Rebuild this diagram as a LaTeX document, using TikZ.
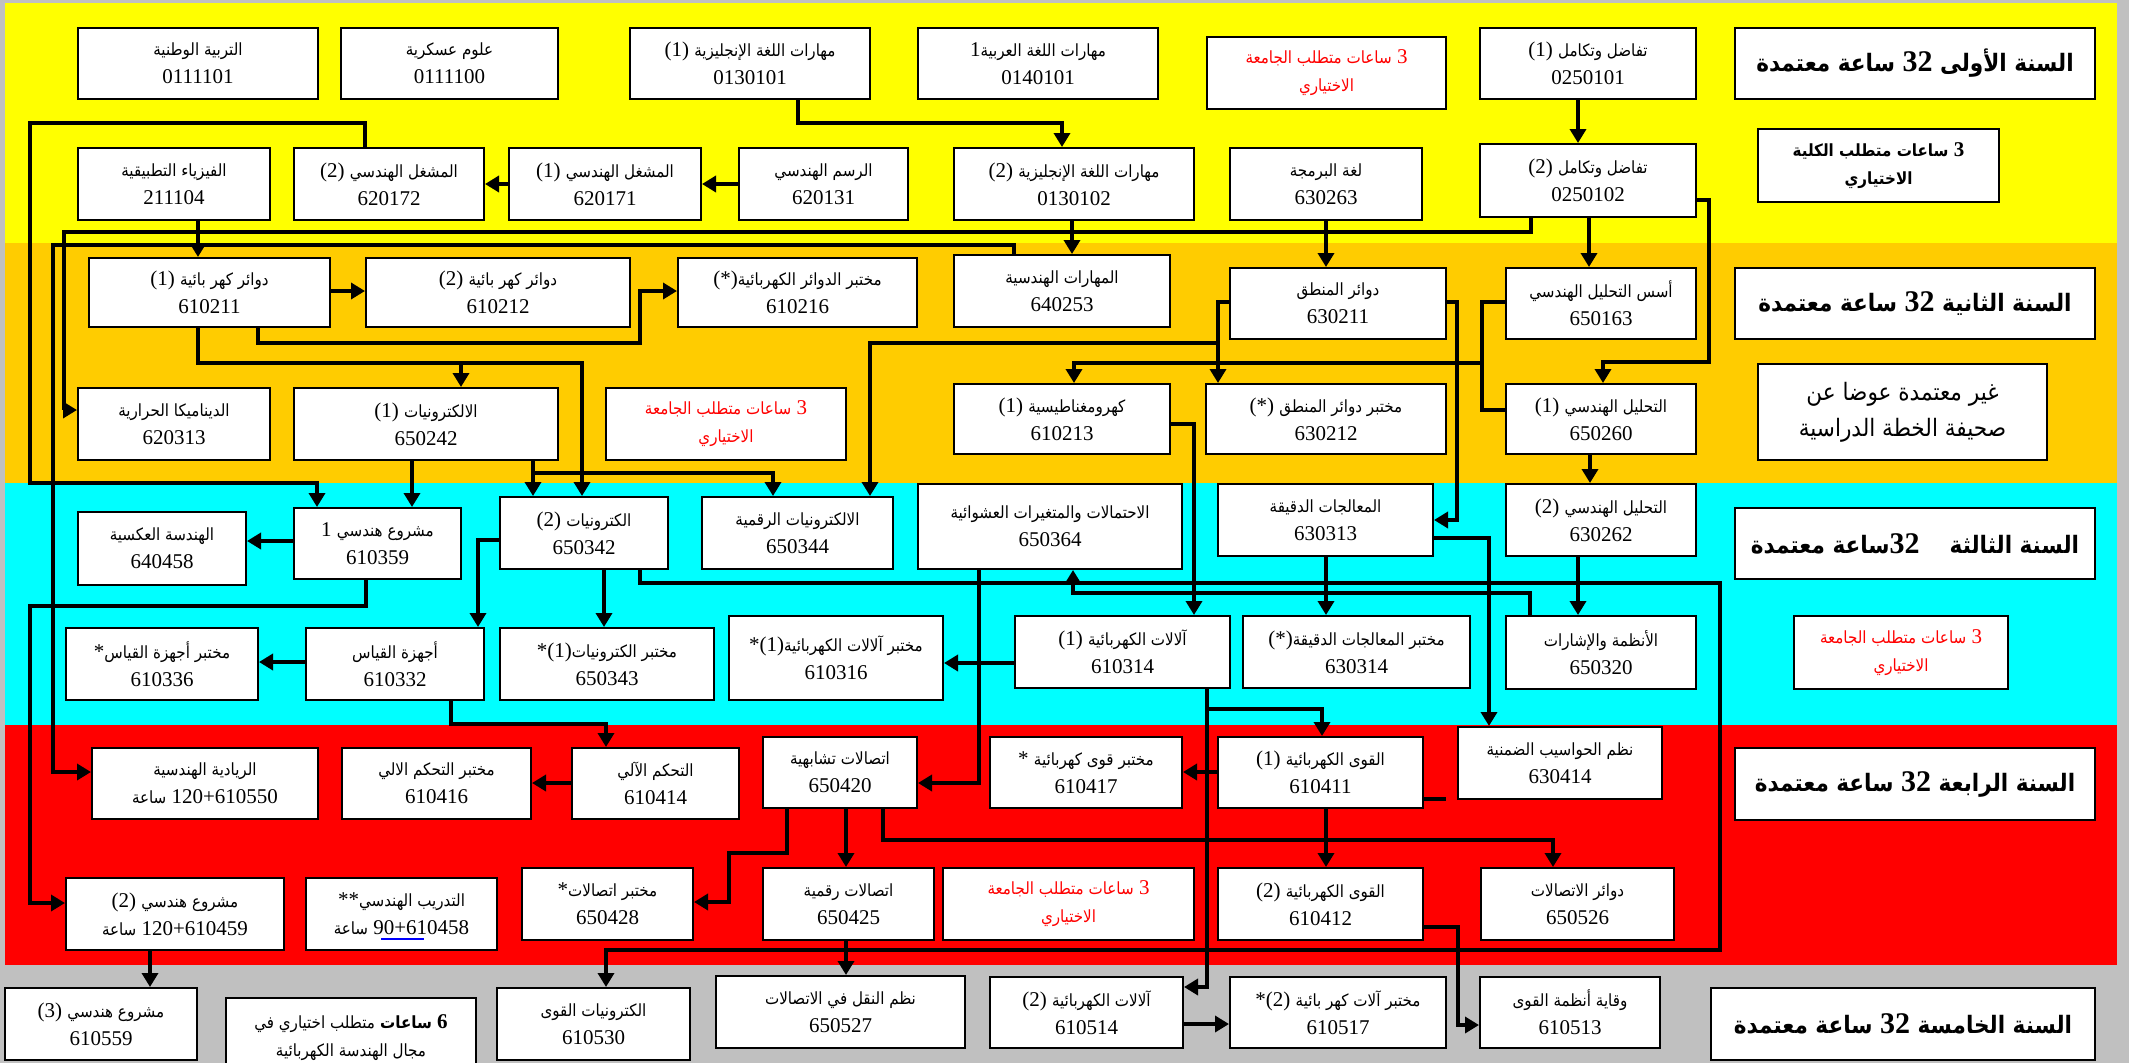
\documentclass[tikz,border=0pt]{standalone}
\usepackage{fontspec}
\setmainfont{Liberation Serif}
\IfFontExistsTF{DejaVu Sans Condensed}{%
  \newfontfamily\arabicfont[Script=Arabic,Scale=0.8]{DejaVu Sans Condensed}}{%
  \newfontfamily\arabicfont[Script=Arabic,Scale=0.72]{DejaVu Sans}}
\TeXXeTstate=1
\usetikzlibrary{arrows.meta}
\newcommand\A[1]{{\arabicfont\beginR#1\endR}}
\definecolor{byellow}{HTML}{FFFF00}
\definecolor{borange}{HTML}{FFCC00}
\definecolor{bcyan}{HTML}{00FFFF}
\definecolor{bred}{HTML}{FF0000}
\definecolor{bgray}{HTML}{C0C0C0}
\definecolor{ulblue}{HTML}{0000FF}
\tikzset{
  box/.style={draw=black,line width=2pt,fill=white,inner sep=0pt,align=center,
    font=\fontsize{21}{28}\selectfont},
  redtxt/.style={text=bred},
  titlebox/.style={font=\fontsize{30}{36}\selectfont\bfseries},
  bigbox/.style={font=\fontsize{30}{36}\selectfont},
  boldbox/.style={font=\fontsize{21}{28}\selectfont\bfseries},
  ln/.style={line width=3.5pt},
  arr/.style={line width=3.5pt,-{Triangle[width=16pt,length=14pt]}}
}
\newcommand\bx[7][]{\node[box,minimum width={#5-#3},minimum height={#6-#4},#1] (#2) at ({(#3+#5)/2},{(#4+#6)/2}) {#7};}
\begin{document}
\begin{tikzpicture}[x=1pt,y=-1pt]
\useasboundingbox (0,0) rectangle (2129,1063);
\fill[bgray] (0,0) rectangle (2129,1063);
\fill[byellow] (5,3) rectangle (2117,243);
\fill[borange] (5,243) rectangle (2117,483);
\fill[bcyan] (5,483) rectangle (2117,725);
\fill[bred] (5,725) rectangle (2117,965);

% ---------- Row 1
\bx{n1}{78}{28}{318}{99}{\A{التربية الوطنية}\\0111101}
\bx{n2}{341}{28}{558}{99}{\A{علوم عسكرية}\\0111100}
\bx{e1}{630}{28}{870}{99}{(1)~\A{مهارات اللغة الإنجليزية}\\0130101}
\bx{a1}{918}{28}{1158}{99}{1\A{مهارات اللغة العربية}\\0140101}
\bx[redtxt]{r1}{1207}{37}{1446}{109}{\A{ساعات متطلب الجامعة}~3\\\A{الاختياري}}
\bx{c1}{1480}{28}{1696}{99}{(1)~\A{تفاضل وتكامل}\\0250101}
\bx[titlebox]{y1}{1735}{28}{2095}{99}{\A{ساعة معتمدة}~32~\A{السنة الأولى}}

% ---------- Row 2
\bx{ph}{78}{148}{270}{220}{\A{الفيزياء التطبيقية}\\211104}
\bx{w2}{294}{148}{484}{220}{(2)~\A{المشغل الهندسي}\\620172}
\bx{w1}{509}{148}{701}{220}{(1)~\A{المشغل الهندسي}\\620171}
\bx{dr}{739}{148}{908}{220}{\A{الرسم الهندسي}\\620131}
\bx{e2}{954}{148}{1194}{220}{(2)~\A{مهارات اللغة الإنجليزية}\\0130102}
\bx{pl}{1230}{148}{1422}{220}{\A{لغة البرمجة}\\630263}
\bx{c2}{1480}{144}{1696}{217}{(2)~\A{تفاضل وتكامل}\\0250102}
\bx[boldbox]{fe}{1758}{129}{1999}{202}{\A{ساعات متطلب الكلية}~3\\\A{الاختياري}}

% ---------- Row 3
\bx{ec1}{89}{258}{330}{327}{(1)~\A{دوائر كهر بائية}\\610211}
\bx{ec2}{366}{258}{630}{327}{(2)~\A{دوائر كهر بائية}\\610212}
\bx{ecl}{678}{258}{917}{327}{(*)\A{مختبر الدوائر الكهربائية}\\610216}
\bx{es}{954}{255}{1170}{327}{\A{المهارات الهندسية}\\640253}
\bx{lc}{1230}{268}{1446}{339}{\A{دوائر المنطق}\\630211}
\bx{fa}{1506}{268}{1696}{339}{\A{أسس التحليل الهندسي}\\650163}
\bx[titlebox]{y2}{1735}{268}{2095}{339}{\A{ساعة معتمدة}~32~\A{السنة الثانية}}

% ---------- Row 4
\bx{th}{78}{388}{270}{460}{\A{الديناميكا الحرارية}\\620313}
\bx{el1}{294}{388}{558}{460}{(1)~\A{الالكترونيات}\\650242}
\bx[redtxt]{r2}{606}{388}{846}{460}{\A{ساعات متطلب الجامعة}~3\\\A{الاختياري}}
\bx{em}{954}{384}{1170}{454}{(1)~\A{كهرومغناطيسية}\\610213}
\bx{lcl}{1206}{384}{1446}{454}{(*)~\A{مختبر دوائر المنطق}\\630212}
\bx{an1}{1506}{384}{1696}{454}{(1)~\A{التحليل الهندسي}\\650260}
\bx[bigbox]{nc}{1758}{364}{2047}{460}{\A{غير معتمدة عوضا عن}\\\A{صحيفة الخطة الدراسية}}

% ---------- Row 5
\bx{re}{78}{512}{246}{585}{\A{الهندسة العكسية}\\640458}
\bx{pr1}{294}{508}{461}{579}{1~\A{مشروع هندسي}\\610359}
\bx{el2}{500}{497}{668}{569}{(2)~\A{الكترونيات}\\650342}
\bx{de}{702}{497}{893}{569}{\A{الالكترونيات الرقمية}\\650344}
\bx{pb}{918}{484}{1182}{569}{\A{الاحتمالات والمتغيرات العشوائية}\\650364}
\bx{mp}{1218}{484}{1433}{556}{\A{المعالجات الدقيقة}\\630313}
\bx{an2}{1506}{484}{1696}{556}{(2)~\A{التحليل الهندسي}\\630262}
\bx[titlebox]{y3}{1735}{508}{2095}{579}{\A{ساعة معتمدة}32\quad\A{السنة الثالثة}}

% ---------- Row 6
\bx{mil}{66}{628}{258}{700}{*\A{مختبر أجهزة القياس}\\610336}
\bx{mi}{306}{628}{484}{700}{\A{أجهزة القياس}\\610332}
\bx{ell}{500}{628}{714}{700}{*(1)\A{مختبر الكترونيات}\\650343}
\bx{mal}{729}{616}{943}{700}{*(1)\A{مختبر آلالات الكهربائية}\\610316}
\bx{ma1}{1015}{616}{1230}{688}{(1)~\A{آلالات الكهربائية}\\610314}
\bx{mpl}{1243}{616}{1470}{688}{(*)\A{مختبر المعالجات الدقيقة}\\630314}
\bx{ss}{1506}{616}{1696}{689}{\A{الأنظمة والإشارات}\\650320}
\bx[redtxt]{r3}{1794}{616}{2008}{689}{\A{ساعات متطلب الجامعة}~3\\\A{الاختياري}}

% ---------- Row 7
\bx{en}{92}{748}{318}{819}{\A{الريادية الهندسية}\\\A{ساعة}~120+610550}
\bx{ctl}{342}{748}{531}{819}{\A{مختبر التحكم الالي}\\610416}
\bx{ct}{572}{748}{739}{819}{\A{التحكم الآلي}\\610414}
\bx{ac}{763}{737}{917}{808}{\A{اتصالات تشابهية}\\650420}
\bx{pwl}{990}{737}{1182}{808}{*~\A{مختبر قوى كهربائية}\\610417}
\bx{pw1}{1218}{737}{1423}{808}{(1)~\A{القوى الكهربائية}\\610411}
\bx{emb}{1458}{727}{1662}{799}{\A{نظم الحواسيب الضمنية}\\630414}
\bx[titlebox]{y4}{1735}{748}{2095}{820}{\A{ساعة معتمدة}~32~\A{السنة الرابعة}}

% ---------- Row 8
\bx{pr2}{66}{878}{284}{950}{(2)~\A{مشروع هندسي}\\\A{ساعة}~120+610459}
\bx{tr}{306}{878}{497}{950}{**\A{التدريب الهندسي}\\\A{ساعة}~90+610458}
\bx{cml}{522}{868}{693}{940}{*\A{مختبر اتصالات}\\650428}
\bx{dc}{763}{868}{934}{940}{\A{اتصالات رقمية}\\650425}
\bx[redtxt]{r4}{943}{868}{1194}{940}{\A{ساعات متطلب الجامعة}~3\\\A{الاختياري}}
\bx{pw2}{1218}{868}{1423}{940}{(2)~\A{القوى الكهربائية}\\610412}
\bx{cc}{1481}{868}{1674}{940}{\A{دوائر الاتصالات}\\650526}

% ---------- Row 9
\bx{pr3}{5}{988}{197}{1060}{(3)~\A{مشروع هندسي}\\610559}
\bx{el6}{226}{998}{476}{1078}{\A{متطلب اختياري في}~\A{\bfseries ساعات}~\textbf{6}\\\A{مجال الهندسة الكهربائية}}
\bx{pe}{497}{988}{690}{1060}{\A{الكترونيات القوى}\\610530}
\bx{tc}{716}{976}{965}{1048}{\A{نظم النقل في الاتصالات}\\650527}
\bx{ma2}{990}{977}{1183}{1048}{(2)~\A{آلالات الكهربائية}\\610514}
\bx{mal2}{1230}{977}{1446}{1048}{*(2)~\A{مختبر آلات كهر بائية}\\610517}
\bx{pp}{1480}{977}{1660}{1048}{\A{وقاية أنظمة القوى}\\610513}
\bx[titlebox]{y5}{1711}{988}{2095}{1060}{\A{ساعة معتمدة}~32~\A{السنة الخامسة}}

\draw[ulblue,line width=2pt] (381,939) -- (424,939);

% ---------- Connectors
\draw[arr] (e1.south -| 798,0) -- (798,123) -- (1062,123) -- (e2.north -| 1062,0);
\draw[arr] (c1.south -| 1578,0) -- (c2.north -| 1578,0);
\draw[arr] (dr.west |- 0,184) -- (w1.east |- 0,184);
\draw[arr] (w1.west |- 0,184) -- (w2.east |- 0,184);
\draw[arr] (w2.north -| 365,0) -- (365,123) -- (30,123) -- (30,483) -- (317,483) -- (pr1.north -| 317,0);
\draw[arr] (ph.south -| 198,0) -- (ec1.north -| 198,0);
\draw[arr] (c2.south -| 1531,0) -- (1531,232) -- (64,232) -- (64,410) -- (th.west |- 0,410);
\draw[arr] (es.north -| 1014,0) -- (1014,245) -- (53,245) -- (53,772) -- (en.west |- 0,772);
\draw[arr] (e2.south -| 1072,0) -- (es.north -| 1072,0);
\draw[arr] (pl.south -| 1326,0) -- (lc.north -| 1326,0);
\draw[arr] (c2.south -| 1589,0) -- (fa.north -| 1589,0);
\draw[arr] (c2.east |- 0,200) -- (1709,200) -- (1709,362) -- (1603,362) -- (an1.north -| 1603,0);
\draw[arr] (ec1.east |- 0,291) -- (ec2.west |- 0,291);
\draw[arr] (ec1.south -| 258,0) -- (258,343) -- (640,343) -- (640,291) -- (ecl.west |- 0,291);
\draw[arr] (ec1.south -| 198,0) -- (198,363) -- (582,363) -- (el2.north -| 582,0);
\draw[arr] (461,363) -- (el1.north -| 461,0);
\draw[arr] (el1.south -| 412,0) -- (pr1.north -| 412,0);
\draw[arr] (el1.south -| 533,0) -- (el2.north -| 533,0);
\draw[arr] (el1.south -| 533,0) -- (533,473) -- (773,473) -- (de.north -| 773,0);
\draw[arr] (lc.west |- 0,302) -- (1218,302) -- (lcl.north -| 1218,0);
\draw[arr] (lc.west |- 0,302) -- (1218,302) -- (1218,343) -- (870,343) -- (de.north -| 870,0);
\draw[arr] (lc.east |- 0,302) -- (1457,302) -- (1457,520) -- (mp.east |- 0,520);
\draw[ln] (fa.west |- 0,302) -- (1482,302) -- (1482,410) -- (an1.west |- 0,410);
\draw[arr] (fa.west |- 0,302) -- (1482,302) -- (1482,363) -- (1074,363) -- (em.north -| 1074,0);
\draw[arr] (an1.south -| 1590,0) -- (an2.north -| 1590,0);
\draw[arr] (em.east |- 0,424) -- (1194,424) -- (ma1.north -| 1194,0);
\draw[arr] (pr1.west |- 0,541) -- (re.east |- 0,541);
\draw[arr] (pr1.south -| 366,0) -- (366,606) -- (30,606) -- (30,903) -- (pr2.west |- 0,903);
\draw[arr] (el2.west |- 0,540) -- (478,540) -- (mi.north -| 478,0);
\draw[arr] (el2.south -| 604,0) -- (ell.north -| 604,0);
\draw[arr] (el2.south -| 640,0) -- (640,583) -- (1720,583) -- (1720,950) -- (606,950) -- (pe.north -| 606,0);
\draw[arr] (ss.north -| 1530,0) -- (1530,593) -- (1073,593) -- (pb.south -| 1073,0);
\draw[arr] (mp.south -| 1326,0) -- (mpl.north -| 1326,0);
\draw[arr] (mp.east |- 0,538) -- (1489,538) -- (emb.north -| 1489,0);
\draw[arr] (an2.south -| 1578,0) -- (ss.north -| 1578,0);
\draw[arr] (pb.south -| 979,0) -- (979,783) -- (ac.east |- 0,783);
\draw[arr] (mi.west |- 0,662) -- (mil.east |- 0,662);
\draw[arr] (mi.south -| 451,0) -- (451,724) -- (606,724) -- (ct.north -| 606,0);
\draw[arr] (ma1.west |- 0,663) -- (mal.east |- 0,663);
\draw[arr] (ma1.south -| 1207,0) -- (1207,709) -- (1322,709) -- (pw1.north -| 1322,0);
\draw[arr] (ma1.south -| 1207,0) -- (1207,987) -- (ma2.east |- 0,987);
\draw[arr] (ct.west |- 0,783) -- (ctl.east |- 0,783);
\draw[arr] (pw1.west |- 0,772) -- (pwl.east |- 0,772);
\draw[arr] (pw1.south -| 1326,0) -- (pw2.north -| 1326,0);
\draw[arr] (ac.south -| 883,0) -- (883,840) -- (1553,840) -- (cc.north -| 1553,0);
\coordinate (stub) at (1446,799);
\draw[ln] (pw1.east |- stub) -- (stub);
\draw[arr] (ac.south -| 787,0) -- (787,853) -- (729,853) -- (729,902) -- (cml.east |- 0,902);
\draw[arr] (ac.south -| 846,0) -- (dc.north -| 846,0);
\draw[arr] (dc.south -| 846,0) -- (tc.north -| 846,0);
\draw[arr] (pw2.east |- 0,927) -- (1458,927) -- (1458,1025) -- (pp.west |- 0,1025);
\draw[arr] (ma2.east |- 0,1024) -- (mal2.west |- 0,1024);
\draw[arr] (pr2.south -| 150,0) -- (pr3.north -| 150,0);
\end{tikzpicture}
\end{document}
